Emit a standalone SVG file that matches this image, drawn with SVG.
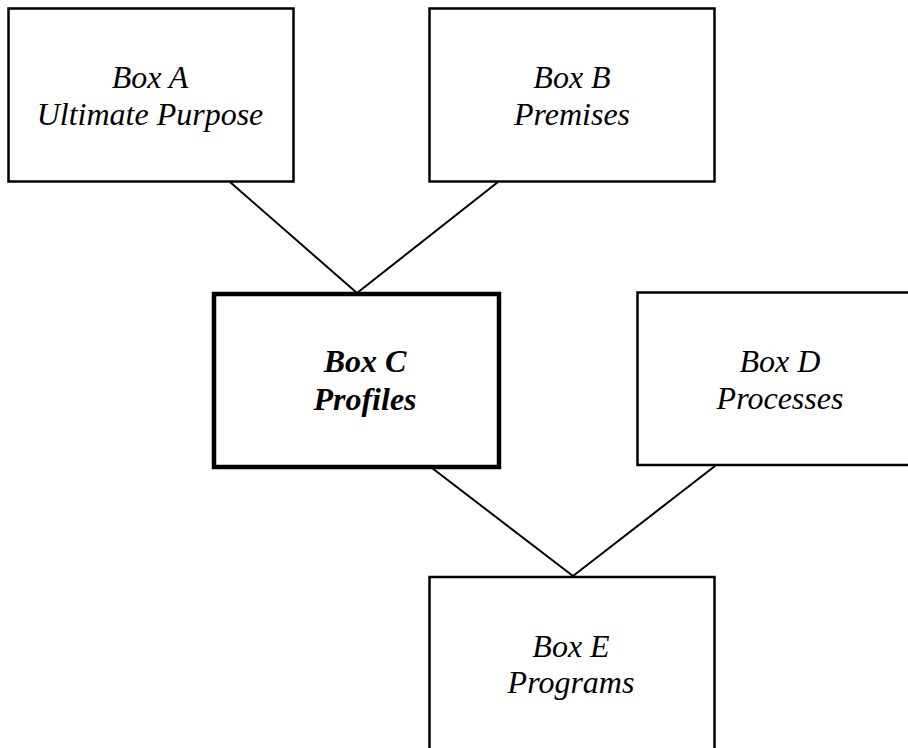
<svg xmlns="http://www.w3.org/2000/svg" width="908" height="748" viewBox="0 0 908 748">
  <style>
    .box { fill: #ffffff; stroke: #000000; stroke-width: 2.5; }
    .box.main { stroke-width: 4.5; }
    .label { font-family: "Liberation Serif", "Times New Roman", serif; font-style: italic; font-size: 32px; fill: #000000; text-anchor: middle; }
    .label.main { font-weight: bold; }
    .link { stroke: #000000; stroke-width: 2; fill: none; }
  </style>
  <rect x="0" y="0" width="908" height="748" fill="#ffffff"/>

  <!-- connectors -->
  <g id="connectors">
    <line class="link" x1="230" y1="182" x2="357" y2="293"/>
    <line class="link" x1="498" y1="182" x2="357" y2="293"/>
    <line class="link" x1="432" y1="468" x2="573" y2="576"/>
    <line class="link" x1="715" y1="466" x2="573" y2="576"/>
  </g>

  <g id="box-a">
    <rect class="box" x="8.5" y="8.5" width="285" height="173"/>
    <text class="label" x="150" y="88">Box A</text>
    <text class="label" x="150" y="125">Ultimate Purpose</text>
  </g>

  <g id="box-b">
    <rect class="box" x="429.5" y="8.5" width="285" height="173"/>
    <text class="label" x="572" y="88">Box B</text>
    <text class="label" x="572" y="125">Premises</text>
  </g>

  <g id="box-c">
    <rect class="box main" x="214" y="294" width="285" height="173"/>
    <text class="label main" x="365" y="372">Box C</text>
    <text class="label main" x="365" y="410">Profiles</text>
  </g>

  <g id="box-d">
    <rect class="box" x="637.5" y="292.5" width="285" height="172.5"/>
    <text class="label" x="780" y="372">Box D</text>
    <text class="label" x="780" y="409">Processes</text>
  </g>

  <g id="box-e">
    <rect class="box" x="429.5" y="577" width="285" height="185"/>
    <text class="label" x="571" y="657">Box E</text>
    <text class="label" x="571" y="693">Programs</text>
  </g>
</svg>
